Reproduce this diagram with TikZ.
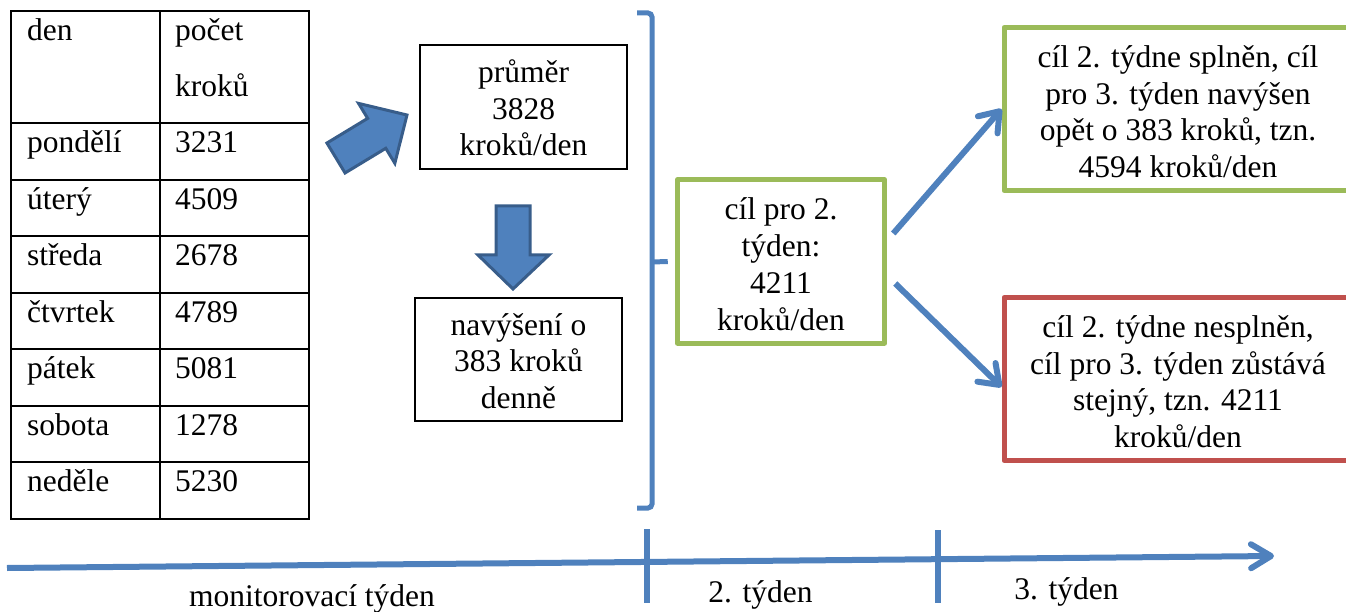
\documentclass[tikz,border=0pt]{standalone}
\usepackage{fontspec}
\setmainfont{Liberation Serif}
\usetikzlibrary{arrows.meta}
\definecolor{lineblue}{HTML}{4F81BD}
\definecolor{darkblue}{HTML}{385D8A}
\definecolor{goalgreen}{HTML}{9BBB59}
\definecolor{failred}{HTML}{C0504D}
\begin{document}
\begin{tikzpicture}[x=1pt, y=-1pt,
    every node/.style={font=\fontsize{31.5}{36.7}\selectfont, inner sep=0pt},
    cell/.style={anchor=base west},
    plainbox/.style={draw, line width=1.5pt, align=center, minimum width=207pt},
    goalbox/.style={draw=goalgreen, line width=5pt, align=center, line join=round},
    failbox/.style={draw=failred, line width=5pt, align=center, line join=round},
    threelines/.style={text height=106pt, text depth=8pt},
    fourlines/.style={text height=145pt, text depth=8pt},
    blockarrow/.style={fill=lineblue, draw=darkblue, line width=3pt},
    brace/.style={draw=lineblue, line width=5pt, rounded corners=4pt},
    link/.style={draw=lineblue, line width=6pt, -{Straight Barb[length=18pt, width=26pt, round]}},
    axis/.style={draw=lineblue, line width=6pt, -{Straight Barb[length=20pt, width=24pt, round]}}]
    \useasboundingbox (0,0) rectangle (1346,612);
    % table
    \draw[line width=2pt] (11,11) rectangle (309,519);
    \draw[line width=2pt] (160,11) -- (160,519);
    \foreach \k in {0,...,6}
        \draw[line width=2pt] (11,123+56.57*\k) -- (309,123+56.57*\k);
    \node[cell] (headday) at (27,40.5) {den};
    \node[cell] (headsteps) at (175,40.5) {počet};
    \node[cell] (headsteps2) at (175,96.5) {kroků};
    \foreach \day/\steps [count=\i] in {pondělí/3231, úterý/4509, středa/2678,
        čtvrtek/4789, pátek/5081, sobota/1278, neděle/5230} {
        \node[cell] (day\i) at (27,96+56.57*\i) {\day};
        \node[cell] (steps\i) at (175,96+56.57*\i) {\steps};
    }
    % block arrows
    \begin{scope}[shift={(336,158)}, rotate=31.2]
        \draw[blockarrow] (0,-17.5) -- (47.6,-17.5) -- (47.6,-35) -- (83,0)
            -- (47.6,35) -- (47.6,17.5) -- (0,17.5) -- cycle;
    \end{scope}
    \draw[blockarrow] (496,206) -- (530,206) -- (530,255) -- (549,255)
        -- (513,289) -- (478,255) -- (496,255) -- cycle;
    % boxes
    \node[plainbox, threelines, minimum height=124pt] (avg) at (523.5,107)
        {průměr\\3828\\kroků/den};
    \node[plainbox, threelines, minimum height=123pt] (raise) at (518.5,359.5)
        {navýšení o\\383 kroků\\denně};
    \node[goalbox, fourlines, minimum width=207.5pt, minimum height=163pt] (goal2) at (781,261.5)
        {cíl pro 2.\\týden:\\4211\\kroků/den};
    \node[goalbox, fourlines, minimum width=348pt, minimum height=163pt] (met) at (1178,109)
        {cíl 2. týdne splněn, cíl\\pro 3. týden navýšen\\opět o 383 kroků, tzn.\\4594 kroků/den};
    \node[failbox, fourlines, minimum width=348pt, minimum height=163pt] (unmet) at (1178,379)
        {cíl 2. týdne nesplněn,\\cíl pro 3. týden zůstává\\stejný, tzn. 4211\\kroků/den};
    % brace and links
    \coordinate (bracetip) at ([xshift=-7pt]goal2.west);
    \draw[brace] (637,13) -- (652,13) -- (652,508) -- (637,508);
    \draw[brace] (652,262) -- (bracetip);
    \draw[link] ([shift={(6,-28)}]goal2.east) -- (met.west);
    \draw[link] ([shift={(8,22)}]goal2.east) -- ([yshift=-8pt]unmet.west);
    % timeline
    \coordinate (tlstart) at (7,568);
    \coordinate (tlend) at (1274,556);
    \draw[axis] (tlstart) -- (tlend);
    \draw[draw=lineblue, line width=6pt] (647,529) -- (647,603);
    \draw[draw=lineblue, line width=6pt] (938,530) -- (938,603);
    \node[anchor=base] (lblmonitor) at (312,606) {monitorovací týden};
    \node[anchor=base] (lblweek2) at (760.5,602) {2. týden};
    \node[anchor=base] (lblweek3) at (1066.5,599) {3. týden};
\end{tikzpicture}
\end{document}
